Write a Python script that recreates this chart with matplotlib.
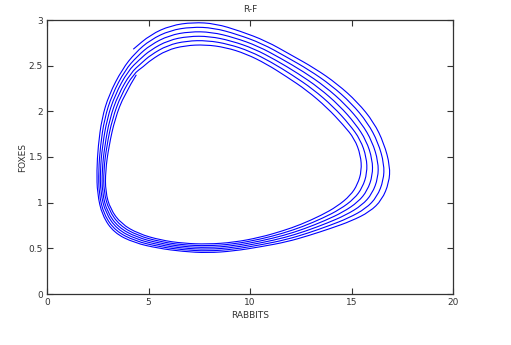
import matplotlib
matplotlib.use("Agg")
from matplotlib import pyplot as plt
from matplotlib.path import Path
from matplotlib.patches import PathPatch
from matplotlib.ticker import FormatStrFormatter

# rabbits / foxes, one list per turn of the spiral (inner -> outer)
rabbits_1 = [4.40, 3.80, 3.35, 3.05, 2.88, 2.88, 3.12, 3.65, 4.50, 5.60, 6.70, 7.90, 9.20, 10.50, 11.60, 12.50, 13.50, 14.30,
             14.95, 15.30, 15.50, 15.45, 15.15, 14.60, 13.80, 12.80, 11.80, 10.80, 9.80, 8.80, 7.80, 6.80, 5.90, 5.10, 4.75]
foxes_1 = [2.40, 2.18, 1.92, 1.62, 1.35, 1.12, 0.93, 0.77, 0.66, 0.59, 0.555, 0.545, 0.565, 0.62, 0.69, 0.76, 0.86, 0.96,
           1.08, 1.20, 1.35, 1.52, 1.70, 1.85, 2.04, 2.23, 2.38, 2.52, 2.63, 2.70, 2.73, 2.72, 2.67, 2.56, 2.49]

rabbits_2 = [4.26, 3.65, 3.22, 2.94, 2.79, 2.80, 3.04, 3.58, 4.46, 5.58, 6.70, 7.90, 9.20, 10.52, 11.64, 12.58, 13.60, 14.44,
             15.14, 15.54, 15.77, 15.74, 15.44, 14.90, 14.10, 13.10, 12.08, 11.04, 10.00, 8.94, 7.90, 6.88, 5.94, 5.10, 4.65]
foxes_2 = [2.41, 2.18, 1.92, 1.62, 1.35, 1.12, 0.92, 0.75, 0.64, 0.572, 0.537, 0.526, 0.546, 0.60, 0.666, 0.736, 0.832, 0.928,
           1.044, 1.166, 1.324, 1.496, 1.69, 1.856, 2.052, 2.244, 2.398, 2.54, 2.658, 2.736, 2.776, 2.771, 2.724, 2.616, 2.528]

rabbits_3 = [4.12, 3.50, 3.09, 2.84, 2.71, 2.72, 2.96, 3.51, 4.42, 5.56, 6.70, 7.90, 9.20, 10.54, 11.68, 12.66, 13.70, 14.58,
             15.33, 15.78, 16.04, 16.03, 15.73, 15.20, 14.40, 13.40, 12.36, 11.28, 10.20, 9.08, 8.00, 6.96, 5.98, 5.10, 4.55]
foxes_3 = [2.42, 2.18, 1.92, 1.62, 1.35, 1.11, 0.90, 0.73, 0.62, 0.554, 0.519, 0.507, 0.527, 0.58, 0.642, 0.712, 0.804, 0.896,
           1.008, 1.132, 1.298, 1.472, 1.68, 1.862, 2.064, 2.258, 2.416, 2.56, 2.686, 2.772, 2.822, 2.822, 2.778, 2.672, 2.566]

rabbits_4 = [3.98, 3.35, 2.96, 2.73, 2.62, 2.64, 2.88, 3.44, 4.38, 5.54, 6.70, 7.90, 9.20, 10.56, 11.72, 12.74, 13.80, 14.72,
             15.52, 16.02, 16.31, 16.32, 16.02, 15.50, 14.70, 13.70, 12.64, 11.52, 10.40, 9.22, 8.10, 7.04, 6.02, 5.10, 4.45]
foxes_4 = [2.44, 2.18, 1.92, 1.62, 1.35, 1.11, 0.89, 0.71, 0.60, 0.536, 0.501, 0.488, 0.508, 0.56, 0.618, 0.688, 0.776, 0.864,
           0.972, 1.098, 1.272, 1.448, 1.67, 1.868, 2.076, 2.272, 2.434, 2.58, 2.714, 2.808, 2.868, 2.873, 2.832, 2.728, 2.604]

rabbits_5 = [3.84, 3.20, 2.83, 2.63, 2.54, 2.56, 2.80, 3.37, 4.34, 5.52, 6.70, 7.90, 9.20, 10.58, 11.76, 12.82, 13.90, 14.86,
             15.71, 16.26, 16.58, 16.61, 16.31, 15.80, 15.00, 14.00, 12.92, 11.76, 10.60, 9.36, 8.20, 7.12, 6.06, 5.10, 4.35]
foxes_5 = [2.45, 2.18, 1.92, 1.62, 1.35, 1.10, 0.87, 0.69, 0.58, 0.518, 0.483, 0.469, 0.489, 0.54, 0.594, 0.664, 0.748, 0.832,
           0.936, 1.064, 1.246, 1.424, 1.66, 1.874, 2.088, 2.286, 2.452, 2.60, 2.742, 2.844, 2.914, 2.924, 2.886, 2.784, 2.642]

rabbits_6 = [3.70, 3.05, 2.70, 2.52, 2.45, 2.48, 2.72, 3.30, 4.30, 5.50, 6.70, 7.90, 9.20, 10.60, 11.80, 12.90, 14.00, 15.00,
             15.90, 16.50, 16.85, 16.90, 16.60, 16.10, 15.30, 14.30, 13.20, 12.00, 10.80, 9.50, 8.30, 7.20, 6.10, 5.10, 4.25]
foxes_6 = [2.46, 2.18, 1.92, 1.62, 1.35, 1.10, 0.86, 0.67, 0.56, 0.50, 0.465, 0.45, 0.47, 0.52, 0.57, 0.64, 0.72, 0.80,
           0.90, 1.03, 1.22, 1.40, 1.65, 1.88, 2.10, 2.30, 2.47, 2.62, 2.77, 2.88, 2.96, 2.975, 2.94, 2.84, 2.68]

rabbits = rabbits_1 + rabbits_2 + rabbits_3 + rabbits_4 + rabbits_5 + rabbits_6
foxes = foxes_1 + foxes_2 + foxes_3 + foxes_4 + foxes_5 + foxes_6

x_ticks = [0, 5, 10, 15, 20]
y_ticks = [0, 0.5, 1, 1.5, 2, 2.5, 3]


def smooth_path(xs, ys):
    # quadratic b-spline through the read points: points act as control points
    pts = list(zip(xs, ys))
    verts = [pts[0]]
    codes = [Path.MOVETO]
    for i in range(1, len(pts) - 1):
        mid = ((pts[i][0] + pts[i + 1][0]) / 2, (pts[i][1] + pts[i + 1][1]) / 2)
        verts += [pts[i], mid]
        codes += [Path.CURVE3, Path.CURVE3]
    verts.append(pts[-1])
    codes.append(Path.LINETO)
    return Path(verts, codes)


fig = plt.figure(figsize=(5.11, 3.45), dpi=100)
ax = fig.add_axes([47/511, 51/345, 406/511, 274/345])

ax.add_patch(PathPatch(smooth_path(rabbits, foxes), facecolor='none', edgecolor='#0000ff', lw=0.8))

ax.set_xlim(0, 20)
ax.set_ylim(0, 3)
ax.set_xticks(x_ticks)
ax.set_yticks(y_ticks)
ax.yaxis.set_major_formatter(FormatStrFormatter('%g'))
ax.tick_params(direction='in', length=4, width=0.8, colors='#333333', labelsize=6.5,
               top=True, right=True, pad=3)
for s in ax.spines.values():
    s.set_color('#333333')
    s.set_linewidth(0.9)

ax.set_title('R-F', fontsize=6.5, color='#333333', pad=6)
ax.set_xlabel('RABBITS', fontsize=6.5, color='#333333', labelpad=3)
ax.set_ylabel('FOXES', fontsize=6.5, color='#333333', labelpad=1)

fig.savefig('out.png', dpi=100)
